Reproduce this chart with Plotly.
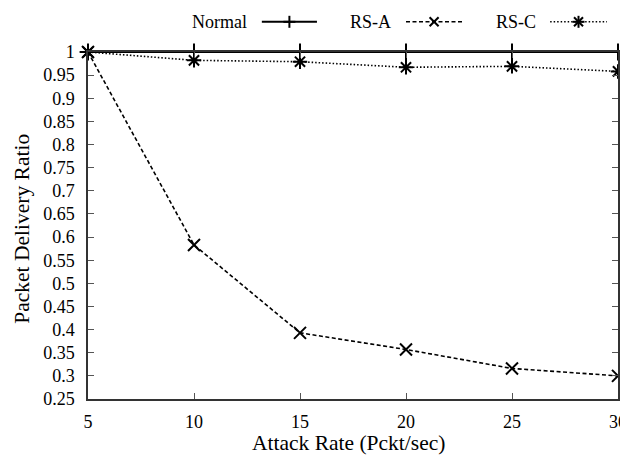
import plotly.graph_objects as go

attack_rate = [5, 10, 15, 20, 25, 30]
normal = [1.0, 1.0, 1.0, 1.0, 1.0, 1.0]
rs_a = [1.0, 0.583, 0.393, 0.357, 0.316, 0.300]
rs_c = [1.0, 0.982, 0.979, 0.967, 0.969, 0.958]
series_names = ["Normal", "RS-A", "RS-C"]
y_ticks = [0.25, 0.3, 0.35, 0.4, 0.45, 0.5, 0.55, 0.6, 0.65, 0.7, 0.75, 0.8, 0.85, 0.9, 0.95, 1.0]
y_tick_text = ["0.25", "0.3", "0.35", "0.4", "0.45", "0.5", "0.55", "0.6", "0.65", "0.7",
               "0.75", "0.8", "0.85", "0.9", "0.95", "1"]
x_ticks = [5, 10, 15, 20, 25, 30]
x_title = "Attack Rate (Pckt/sec)"
y_title = "Packet Delivery Ratio"

FONT = "Liberation Serif"
TICK_SIZE = 18
TITLE_SIZE = 21.5
styles = [
    dict(dash="solid", width=2.0, symbol="cross-thin-open", size=12, glyph="+"),
    dict(dash="4px,2.5px", width=1.6, symbol="x-thin-open", size=12, glyph="x"),
    dict(dash="1.5px,2px", width=1.6, symbol="asterisk-open", size=12, glyph="*"),
]

fig = go.Figure()
for name, ys, st in zip(series_names, [normal, rs_a, rs_c], styles):
    fig.add_trace(go.Scatter(
        x=attack_rate, y=ys, name=name, mode="lines+markers",
        line=dict(color="black", width=st["width"], dash=st["dash"]),
        marker=dict(symbol=st["symbol"], size=st["size"], color="black",
                    line=dict(color="black", width=2)),
        showlegend=False, cliponaxis=False,
    ))

# gnuplot-style key above the plot: text, then line sample with marker
key_y = 1.087
key_text_right = [0.304, 0.575, 0.849]
key_sample = [(0.328, 0.432), (0.600, 0.706), (0.872, 0.979)]
for name, st, xr, (s0, s1) in zip(series_names, styles, key_text_right, key_sample):
    fig.add_annotation(x=xr, y=key_y, xref="paper", yref="paper", text=name,
                       showarrow=False, xanchor="right", yanchor="middle",
                       font=dict(family=FONT, size=TICK_SIZE, color="black"))
    fig.add_shape(type="line", xref="paper", yref="paper", x0=s0, x1=s1, y0=key_y, y1=key_y,
                  line=dict(color="black", width=st["width"], dash=st["dash"]))
    xc = (s0 + s1) / 2
    h = st["size"] / 2
    segs = []
    if st["glyph"] in ("+", "*"):
        segs += [(-h, 0, h, 0), (0, -h, 0, h)]
    if st["glyph"] in ("x", "*"):
        d = h * 0.75
        segs += [(-d, -d, d, d), (-d, d, d, -d)]
    for (a0, b0, a1, b1) in segs:
        fig.add_shape(type="line", xref="paper", yref="paper",
                      xsizemode="pixel", ysizemode="pixel", xanchor=xc, yanchor=key_y,
                      x0=a0, x1=a1, y0=b0, y1=b1, line=dict(color="black", width=2))

# axis titles
fig.add_annotation(x=0.491, y=-0.166, xref="paper", yref="paper", text=x_title,
                   showarrow=False, xanchor="center", yanchor="bottom",
                   font=dict(family=FONT, size=TITLE_SIZE, color="black"))
fig.add_annotation(x=-0.125, y=0.49, xref="paper", yref="paper", text=y_title,
                   showarrow=False, xanchor="center", yanchor="middle", textangle=-90,
                   font=dict(family=FONT, size=TITLE_SIZE, color="black"))

axis_common = dict(ticks="inside", ticklen=6, tickcolor="#555", showline=True,
                   linecolor="#333", linewidth=1.5, mirror="ticks", showgrid=False,
                   zeroline=False, automargin=False,
                   tickfont=dict(family=FONT, size=TICK_SIZE, color="black"))

fig.update_layout(
    width=620, height=450,
    margin=dict(l=80, r=10, t=44, b=59),
    paper_bgcolor="white", plot_bgcolor="white",
    font=dict(family=FONT, size=TICK_SIZE, color="black"),
    xaxis=dict(range=[5, 30], tickvals=x_ticks, ticklabelstandoff=6, **axis_common),
    yaxis=dict(range=[0.25, 1.0], tickvals=y_ticks, ticktext=y_tick_text,
               ticklabelstandoff=8, **axis_common),
)
fig.write_html("out.html")
